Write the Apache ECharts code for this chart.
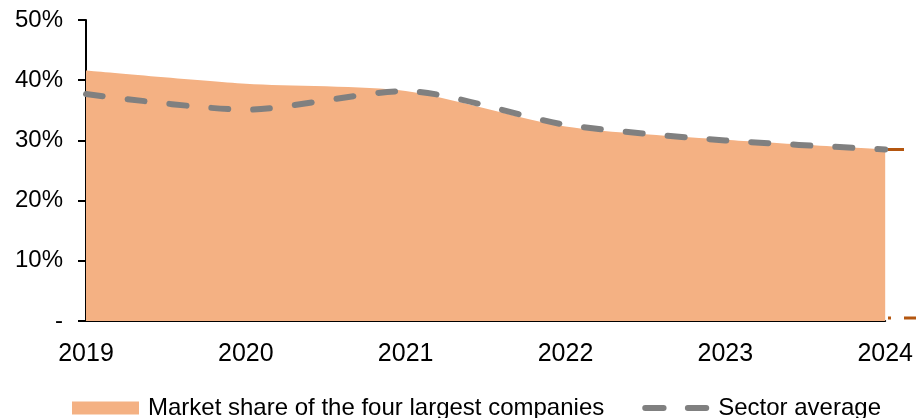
<!DOCTYPE html>
<html>
<head>
<meta charset="utf-8">
<script src="https://cdn.jsdelivr.net/npm/echarts@6/dist/echarts.min.js"></script>
<style>
html,body{margin:0;padding:0;background:#fff;}
#chart{width:916px;height:418px;}
</style>
</head>
<body>
<div id="chart"></div>
<script>
const categories = ['2019', '2020', '2021', '2022', '2023', '2024'];
const marketShareTop4 = [41.6, 39.4, 38.2, 32.3, 30.1, 28.5];
const sectorAverage = [37.7, 35.1, 38.2, 32.6, 30.0, 28.5];
const yTicks = [0, 10, 20, 30, 40, 50];
const rightStubSolid = [28.5, 28.5];
const rightStubDotted = [0.5, 0.5];

const FONT = 'Liberation Sans, Arial, sans-serif';
const chart = echarts.init(document.getElementById('chart'), null, {renderer: 'canvas'});

const dashIcon = 'path://M3,0 L21,0 A3,3 0 0 1 21,6 L3,6 A3,3 0 0 1 3,0 Z M45,0 L63,0 A3,3 0 0 1 63,6 L45,6 A3,3 0 0 1 45,0 Z';

const option = {
  animation: false,
  backgroundColor: '#ffffff',
  textStyle: {fontFamily: FONT, color: '#000'},
  grid: [
    {left: 86, right: 30, top: 20, bottom: 97, containLabel: false},
    {left: 888, right: 12, top: 20, bottom: 97, containLabel: false},
    {left: 888, right: 0, top: 20, bottom: 97, containLabel: false}
  ],
  xAxis: [
    {
      type: 'category', data: categories, boundaryGap: false, gridIndex: 0,
      axisLine: {show: true, lineStyle: {color: '#000', width: 2}},
      axisTick: {show: false},
      axisLabel: {color: '#000', fontSize: 25, fontFamily: FONT, margin: 21},
      splitLine: {show: false}
    },
    {type: 'category', data: ['a', 'b'], boundaryGap: false, gridIndex: 1, show: false},
    {type: 'category', data: ['a', 'b'], boundaryGap: false, gridIndex: 2, show: false}
  ],
  yAxis: [
    {
      type: 'value', min: yTicks[0], max: yTicks[yTicks.length - 1], interval: 10, gridIndex: 0,
      axisLine: {show: true, lineStyle: {color: '#000', width: 2}},
      axisTick: {show: true, length: 8, lineStyle: {color: '#000', width: 2}},
      axisLabel: {
        color: '#000', fontSize: 24, fontFamily: FONT, margin: 23,
        formatter: v => v === 0 ? '-' : v + '%'
      },
      splitLine: {show: false}
    },
    {type: 'value', min: 0, max: 50, gridIndex: 1, show: false},
    {type: 'value', min: 0, max: 50, gridIndex: 2, show: false}
  ],
  legend: {
    top: 391,
    left: 67,
    padding: 5,
    itemGap: 38,
    itemWidth: 67,
    itemHeight: 13,
    textStyle: {fontSize: 24, fontFamily: FONT, color: '#000', padding: [0, 0, 0, 4]},
    data: [
      {name: 'Market share of the four largest companies', icon: 'rect', itemStyle: {color: '#F4B183'}},
      {name: 'Sector average', icon: dashIcon, itemStyle: {color: '#808080'}}
    ]
  },
  series: [
    {
      name: 'Market share of the four largest companies',
      type: 'line',
      data: marketShareTop4,
      smooth: 0.25,
      symbol: 'none',
      lineStyle: {width: 0, color: '#F4B183'},
      itemStyle: {color: '#F4B183'},
      areaStyle: {color: '#F4B183', opacity: 1},
      z: 1
    },
    {
      name: 'Sector average',
      type: 'line',
      data: sectorAverage,
      smooth: 0.25,
      symbol: 'none',
      lineStyle: {width: 6, color: '#808080', type: [17, 25], cap: 'round'},
      itemStyle: {color: '#808080'},
      z: 3
    },
    {
      name: 'stub1', type: 'line', xAxisIndex: 1, yAxisIndex: 1,
      data: rightStubSolid, symbol: 'none', silent: true,
      lineStyle: {width: 3, color: '#B4560F'}
    },
    {
      name: 'stub2', type: 'line', xAxisIndex: 2, yAxisIndex: 2,
      data: rightStubDotted, symbol: 'none', silent: true,
      lineStyle: {width: 3, color: '#B4560F', type: [3, 13, 14, 10]}
    }
  ]
};
chart.setOption(option);
</script>
</body>
</html>
